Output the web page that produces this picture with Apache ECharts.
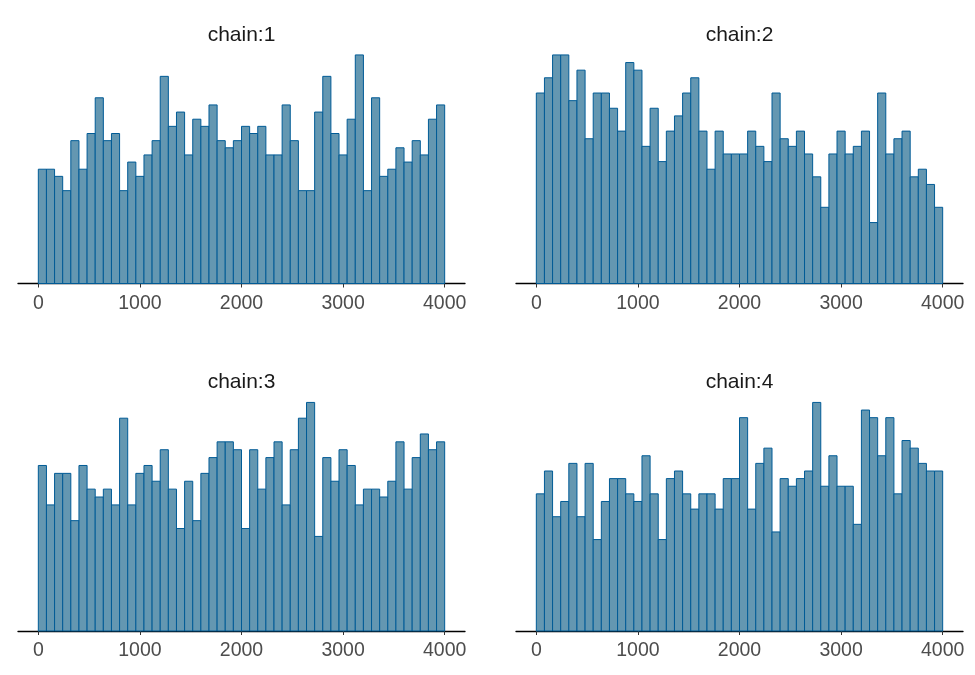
<!DOCTYPE html>
<html>
<head>
<meta charset="utf-8">
<script src="https://cdn.jsdelivr.net/npm/echarts@6/dist/echarts.min.js"></script>
<style>
html,body{margin:0;padding:0;background:#fff;}
#chart{width:975px;height:675px;}
</style>
</head>
<body>
<div id="chart"></div>
<script>
// ---- data (histogram counts, 50 bins of width 80 from 0 to 4000) ----
const binStart = 0;
const binWidth = 80;
const panelTitles = ["chain:1", "chain:2", "chain:3", "chain:4"];
const tickValues = [0, 1000, 2000, 3000, 4000];
const tickLabels = ["0", "1000", "2000", "3000", "4000"];

const chain1Counts = [16,16,15,13,20,16,21,26,20,21,13,17,15,18,20,29,22,24,18,23,22,25,20,19,20,22,
  21,22,18,18,25,20,13,13,24,29,21,18,23,32,13,26,15,16,19,17,20,18,23,25];
const chain2Counts = [25,27,30,30,24,28,19,25,25,23,20,29,28,18,23,16,20,22,25,27,20,15,20,17,17,
  17,20,18,16,25,19,18,20,17,14,10,17,20,17,18,20,8,25,17,19,20,14,15,13,10];
const chain3Counts = [21,16,20,20,14,21,18,17,18,16,27,16,20,21,19,23,18,13,19,14,20,22,24,24,23,
  13,23,18,22,24,16,23,27,29,12,22,19,23,21,16,18,18,17,19,24,18,22,25,23,24];
const chain4Counts = [18,21,15,17,22,15,22,12,17,20,20,18,17,23,18,12,20,21,18,16,18,18,16,20,20,
  28,16,22,24,13,20,19,20,21,30,19,23,19,19,14,29,28,23,28,18,25,24,22,21,21];

const allCounts = [chain1Counts, chain2Counts, chain3Counts, chain4Counts];

// ---- layout ----
const panels = [
  {left: 18,  top: 43.5, width: 447, height: 240},
  {left: 516, top: 43.5, width: 447, height: 240},
  {left: 18,  top: 391,  width: 447, height: 240},
  {left: 516, top: 391,  width: 447, height: 240}
];

const FILL = "#6497b1";
const STROKE = "#005b96";

const chart = echarts.init(document.getElementById('chart'), null, {renderer: 'canvas'});

const grid = [], xAxis = [], yAxis = [], series = [], graphic = [];
panels.forEach((p, i) => {
  grid.push({left: p.left, top: p.top, width: p.width, height: p.height, containLabel: false});
  xAxis.push({
    type: 'value', gridIndex: i, min: -200, max: 4200,
    axisLine: {show: true, onZero: false, lineStyle: {color: '#000', width: 1.3}},
    axisTick: {show: true, customValues: tickValues, length: 4, lineStyle: {color: '#333', width: 1}},
    axisLabel: {show: true, customValues: tickValues, fontSize: 19.5, color: '#4d4d4d',
      fontFamily: 'Liberation Sans, Arial, sans-serif', margin: 10,
      formatter: v => tickLabels[tickValues.indexOf(v)] ?? String(v)},
    splitLine: {show: false}
  });
  yAxis.push({
    type: 'value', gridIndex: i, min: 0, max: v => v.max * 1.05, show: false,
    splitLine: {show: false}
  });
  const data = allCounts[i].map((c, k) => [binStart + k * binWidth, binStart + (k + 1) * binWidth, c]);
  series.push({
    type: 'custom', xAxisIndex: i, yAxisIndex: i,
    encode: {x: [0, 1], y: 2},
    data: data,
    renderItem: function (params, api) {
      const a = api.coord([api.value(0), api.value(2)]);
      const b = api.coord([api.value(1), 0]);
      return {
        type: 'rect',
        shape: {x: a[0], y: a[1], width: b[0] - a[0], height: b[1] - a[1]},
        style: {fill: FILL, stroke: STROKE, lineWidth: 1}
      };
    }
  });
  graphic.push({
    type: 'text',
    x: p.left + p.width / 2,
    y: p.top - 8.5,
    style: {
      text: panelTitles[i],
      x: 0, y: 0,
      textAlign: 'center', textVerticalAlign: 'middle',
      fontSize: 21, fill: '#1a1a1a',
      fontFamily: 'Liberation Sans, Arial, sans-serif'
    }
  });
});

chart.setOption({
  animation: false,
  backgroundColor: '#fff',
  grid: grid,
  xAxis: xAxis,
  yAxis: yAxis,
  series: series,
  graphic: graphic
});
</script>
</body>
</html>
